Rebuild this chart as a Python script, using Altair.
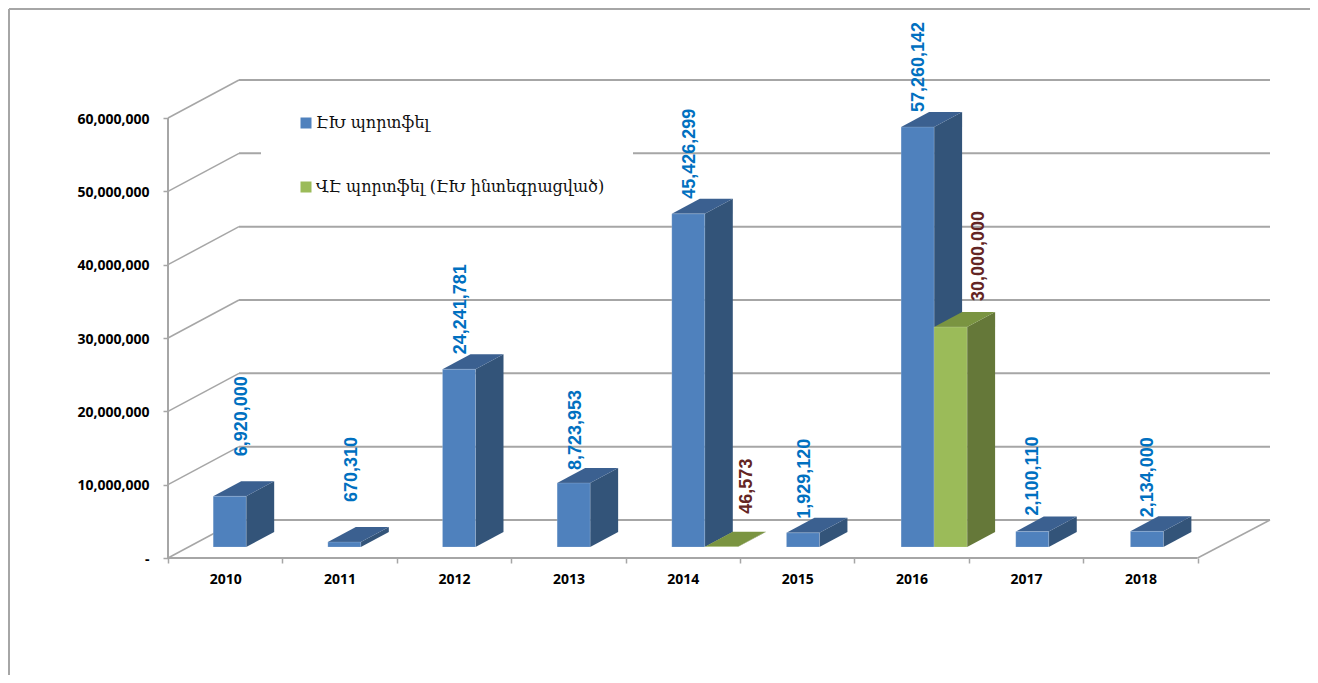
import altair as alt
import pandas as pd

years = ["2010", "2011", "2012", "2013", "2014", "2015", "2016", "2017", "2018"]
series_names = ["ԷԽ պորտֆել", "ՎԷ պորտֆել (ԷԽ ինտեգրացված)"]
blue_values = [6920000, 670310, 24241781, 8723953, 45426299, 1929120, 57260142, 2100110, 2134000]
green_values = [None, None, None, None, 46573, None, 30000000, None, None]
y_ticks = [0, 10000000, 20000000, 30000000, 40000000, 50000000, 60000000]

# --- projection: one category step and one value unit, in pixels ---
W, H = 1102, 480
PAD = dict(left=160, top=70, right=40, bottom=117)
STEP = 114.4
PPV = 440 / 60000000
def ux(p): return p / STEP
def uy(p): return p / PPV

WALL_DX, WALL_DY = ux(71), uy(38)
BAR_DX, BAR_DY = ux(28), uy(15)
BAR_W = ux(33)
BAR_OFF = 0.395
BAR_STEP = 1.0022
BASE = uy(11)

x_scale = alt.Scale(domain=[0, W / STEP], range=[0, W], nice=False, zero=False)
y_scale = alt.Scale(domain=[0, H / PPV], range=[H, 0], nice=False, zero=False)

GRID = "#a6a6a6"
FACES = {
    0: dict(front="#4f81bd", side="#335479", top="#3b6090"),
    1: dict(front="#9bbb59", side="#657839", top="#7a9441"),
}

def bar_left(i, s):
    return i * BAR_STEP + BAR_OFF + s * BAR_W

fronts, sides, tops = [], [], []
for s, vals in enumerate([blue_values, green_values]):
    for i, v in enumerate(vals):
        if v is None:
            continue
        x0 = bar_left(i, s)
        x1 = x0 + BAR_W
        t = BASE + v
        fronts.append(dict(x=x0, x2=x1, y=BASE, y2=t, series=series_names[s]))
        for xx, a, b in [(x1, t, BASE), (x1 + BAR_DX, t + BAR_DY, BASE + BAR_DY)]:
            sides.append(dict(id=f"{s}-{i}", s=s, x=xx, y=a, y2=b))
        for xx, a, b in [(x0, t, t), (x0 + BAR_DX, t + BAR_DY, t),
                         (x1, t + BAR_DY, t), (x1 + BAR_DX, t + BAR_DY, t + BAR_DY)]:
            tops.append(dict(id=f"{s}-{i}", s=s, x=xx, y=a, y2=b))
fronts, sides, tops = map(pd.DataFrame, (fronts, sides, tops))

XP = alt.X("x:Q", scale=x_scale, title=None,
           axis=alt.Axis(values=list(range(10)), domain=False, grid=False, tickColor=GRID,
                         tickWidth=1.5, tickSize=5, labelOffset=STEP / 2, labelPadding=9,
                         labelExpr=f"{years}[datum.value] || ''", labelFont="Open Sans",
                         labelFontWeight="bold", labelFontSize=14, labelColor="#000000",
                         labelOverlap=False, labelFlush=False, labelBound=False))
YP = alt.Y("y:Q", scale=y_scale, title=None,
           axis=alt.Axis(values=y_ticks, domain=False, grid=False, tickColor=GRID,
                         tickWidth=1.5, tickSize=5, labelPadding=14, labelOffset=1,
                         labelExpr="datum.value == 0 ? '-' : format(datum.value, ',')",
                         labelFont="Open Sans", labelFontWeight="bold", labelFontSize=14,
                         labelColor="#000000", labelOverlap=False, labelFlush=False,
                         labelBound=False))

def rules(df, width):
    return alt.Chart(df).mark_rule(color=GRID, strokeWidth=width, clip=False).encode(
        x=XP, x2="x2:Q", y=YP, y2="y2:Q")

x_end = W / STEP
wall = pd.DataFrame([dict(x=WALL_DX, x2=x_end, y=v + WALL_DY, y2=v + WALL_DY) for v in y_ticks])
diag = pd.DataFrame([dict(x=0, x2=WALL_DX, y=v, y2=v + WALL_DY) for v in y_ticks]
                    + [dict(x=9, x2=x_end, y=0, y2=WALL_DY)])
axes = pd.DataFrame([dict(x=0, x2=0, y=0, y2=60000000), dict(x=0, x2=9, y=0, y2=0)])

def face(df, s, name):
    return alt.Chart(df[df.s == s]).mark_area(color=FACES[s][name], line=False, opacity=1).encode(
        x=XP, y=YP, y2="y2:Q", detail="id:N")

front_layer = alt.Chart(fronts).mark_rect(strokeWidth=0.7, stroke="#ffffff", strokeOpacity=0.25).encode(
    x=XP, x2="x2:Q", y=YP, y2="y2:Q",
    color=alt.Color("series:N",
                    scale=alt.Scale(domain=series_names, range=[FACES[0]["front"], FACES[1]["front"]]),
                    legend=alt.Legend(title=None, orient="none", legendX=93, legendY=9, padding=28,
                                      fillColor="#ffffff", symbolType="square", symbolSize=121,
                                      symbolStrokeWidth=0, rowPadding=48, labelFont="DejaVu Serif",
                                      labelFontSize=16, labelColor="#111111", labelLimit=500,
                                      labelOffset=2, symbolOffset=9)))

# hand-placed data labels: (series, category, x from bar's left edge, gap above bar's back top)
NUDGE = [(0, 0, 29, 25), (0, 1, 24, 25), (0, 2, 18.5, 0), (0, 3, 19.2, -2), (0, 4, 18, 0), (0, 5, 18.75, -1),
         (0, 6, 17.5, 0), (0, 7, 17.25, 1), (0, 8, 18, -1), (1, 4, 42, 18), (1, 6, 44.5, 11)]
labels = []
for s, i, dx, gap in NUDGE:
    v = [blue_values, green_values][s][i]
    labels.append(dict(x=bar_left(i, s) + ux(dx), y=BASE + v + BAR_DY + uy(gap),
                       t=format(v, ","), s=s))
labels = pd.DataFrame(labels)
label_layer = alt.Chart(labels).mark_text(angle=270, align="left", baseline="middle",
                                          font="Liberation Sans", fontWeight="bold", fontSize=18).encode(
    x=XP, y=YP, text="t:N",
    color=alt.Color("s:N", scale=alt.Scale(domain=[0, 1], range=["#0070c0", "#632523"]), legend=None))

# outer frame of the picture, top and left edges only
frame_top = alt.Chart(pd.DataFrame({"a": [0]})).mark_rule(color="#a6a6a6", strokeWidth=2, clip=False).encode(
    x=alt.value(-159), x2=alt.value(W + PAD["right"]), y=alt.value(-69))
frame_left = alt.Chart(pd.DataFrame({"a": [0]})).mark_rule(color="#a6a6a6", strokeWidth=2, clip=False).encode(
    x=alt.value(-159), y=alt.value(-69), y2=alt.value(H + PAD["bottom"]))

chart = alt.layer(
    frame_top, frame_left,
    rules(wall, 2), rules(diag, 1.5), rules(axes, 2),
    face(sides, 0, "side"), face(tops, 0, "top"),
    face(sides, 1, "side"), face(tops, 1, "top"),
    front_layer, label_layer,
).resolve_scale(color="independent").properties(
    width=W, height=H, padding=PAD, autosize=alt.AutoSizeParams(type="none"), background="#ffffff"
).configure_view(stroke=None)

chart.save("out.html", embed_options={"renderer": "svg", "actions": False})
